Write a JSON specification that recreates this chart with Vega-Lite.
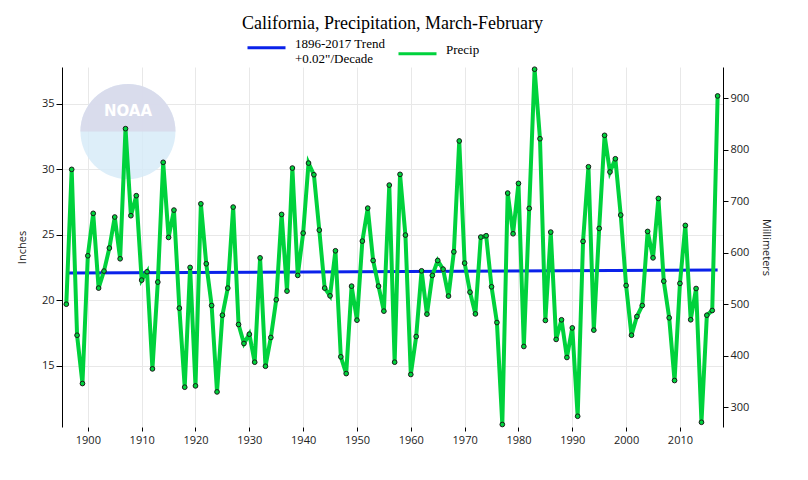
{
  "$schema": "https://vega.github.io/schema/vega-lite/v6.json",
  "autosize": "none",
  "width": 661,
  "height": 360,
  "padding": {"left": 62, "top": 67, "right": 85, "bottom": 53},
  "background": "white",
  "title": {
    "text": "California, Precipitation, March-February",
    "font": "Liberation Serif",
    "fontSize": 18,
    "fontWeight": "normal",
    "color": "#000000",
    "anchor": "middle",
    "offset": -6
  },
  "config": {
    "view": {"stroke": null},
    "axis": {
      "labelFont": "Open Sans",
      "labelFontSize": 11,
      "labelColor": "#222222",
      "titleFont": "Open Sans",
      "titleFontSize": 11,
      "titleFontWeight": "normal",
      "titleColor": "#222222",
      "tickColor": "#000000",
      "domainColor": "#000000",
      "gridColor": "#e8e8e8",
      "gridWidth": 1
    },
    "legend": {
      "orient": "none",
      "legendX": 184,
      "legendY": -40,
      "direction": "horizontal",
      "title": null,
      "symbolType": "stroke",
      "symbolSize": 1444,
      "symbolStrokeWidth": 3,
      "labelFont": "Liberation Serif",
      "labelFontSize": 13,
      "labelColor": "#000000",
      "labelBaseline": "alphabetic",
      "labelOffset": 8,
      "columnPadding": 6,
      "padding": 0
    }
  },
  "datasets": {
    "precip": [
      {"year": 1896, "inches": 19.69}, {"year": 1897, "inches": 29.99}, {"year": 1898, "inches": 17.32}, {"year": 1899, "inches": 13.63},
      {"year": 1900, "inches": 23.39}, {"year": 1901, "inches": 26.63}, {"year": 1902, "inches": 20.92}, {"year": 1903, "inches": 22.22},
      {"year": 1904, "inches": 23.98}, {"year": 1905, "inches": 26.35}, {"year": 1906, "inches": 23.16}, {"year": 1907, "inches": 33.10},
      {"year": 1908, "inches": 26.45}, {"year": 1909, "inches": 27.98}, {"year": 1910, "inches": 21.53}, {"year": 1911, "inches": 22.17},
      {"year": 1912, "inches": 14.75}, {"year": 1913, "inches": 21.38}, {"year": 1914, "inches": 30.53}, {"year": 1915, "inches": 24.79},
      {"year": 1916, "inches": 26.88}, {"year": 1917, "inches": 19.39}, {"year": 1918, "inches": 13.35}, {"year": 1919, "inches": 22.50},
      {"year": 1920, "inches": 13.45}, {"year": 1921, "inches": 27.36}, {"year": 1922, "inches": 22.78}, {"year": 1923, "inches": 19.59},
      {"year": 1924, "inches": 12.99}, {"year": 1925, "inches": 18.85}, {"year": 1926, "inches": 20.92}, {"year": 1927, "inches": 27.11},
      {"year": 1928, "inches": 18.14}, {"year": 1929, "inches": 16.69}, {"year": 1930, "inches": 17.40}, {"year": 1931, "inches": 15.26},
      {"year": 1932, "inches": 23.23}, {"year": 1933, "inches": 14.95}, {"year": 1934, "inches": 17.15}, {"year": 1935, "inches": 20.03},
      {"year": 1936, "inches": 26.55}, {"year": 1937, "inches": 20.69}, {"year": 1938, "inches": 30.09}, {"year": 1939, "inches": 21.89},
      {"year": 1940, "inches": 25.12}, {"year": 1941, "inches": 30.47}, {"year": 1942, "inches": 29.58}, {"year": 1943, "inches": 25.35},
      {"year": 1944, "inches": 20.92}, {"year": 1945, "inches": 20.33}, {"year": 1946, "inches": 23.77}, {"year": 1947, "inches": 15.67},
      {"year": 1948, "inches": 14.39}, {"year": 1949, "inches": 21.07}, {"year": 1950, "inches": 18.47}, {"year": 1951, "inches": 24.51},
      {"year": 1952, "inches": 27.03}, {"year": 1953, "inches": 23.03}, {"year": 1954, "inches": 21.07}, {"year": 1955, "inches": 19.16},
      {"year": 1956, "inches": 28.79}, {"year": 1957, "inches": 15.26}, {"year": 1958, "inches": 29.61}, {"year": 1959, "inches": 24.97},
      {"year": 1960, "inches": 14.32}, {"year": 1961, "inches": 17.22}, {"year": 1962, "inches": 22.24}, {"year": 1963, "inches": 18.93},
      {"year": 1964, "inches": 21.89}, {"year": 1965, "inches": 23.03}, {"year": 1966, "inches": 22.37}, {"year": 1967, "inches": 20.31},
      {"year": 1968, "inches": 23.69}, {"year": 1969, "inches": 32.16}, {"year": 1970, "inches": 22.83}, {"year": 1971, "inches": 20.61},
      {"year": 1972, "inches": 18.95}, {"year": 1973, "inches": 24.82}, {"year": 1974, "inches": 24.92}, {"year": 1975, "inches": 21.02},
      {"year": 1976, "inches": 18.29}, {"year": 1977, "inches": 10.50}, {"year": 1978, "inches": 28.18}, {"year": 1979, "inches": 25.07},
      {"year": 1980, "inches": 28.92}, {"year": 1981, "inches": 16.46}, {"year": 1982, "inches": 27.01}, {"year": 1983, "inches": 37.64},
      {"year": 1984, "inches": 32.33}, {"year": 1985, "inches": 18.45}, {"year": 1986, "inches": 25.20}, {"year": 1987, "inches": 17.00},
      {"year": 1988, "inches": 18.50}, {"year": 1989, "inches": 15.62}, {"year": 1990, "inches": 17.88}, {"year": 1991, "inches": 11.13},
      {"year": 1992, "inches": 24.49}, {"year": 1993, "inches": 30.19}, {"year": 1994, "inches": 17.71}, {"year": 1995, "inches": 25.48},
      {"year": 1996, "inches": 32.59}, {"year": 1997, "inches": 29.79}, {"year": 1998, "inches": 30.80}, {"year": 1999, "inches": 26.50},
      {"year": 2000, "inches": 21.12}, {"year": 2001, "inches": 17.32}, {"year": 2002, "inches": 18.75}, {"year": 2003, "inches": 19.59},
      {"year": 2004, "inches": 25.25}, {"year": 2005, "inches": 23.23}, {"year": 2006, "inches": 27.77}, {"year": 2007, "inches": 21.45},
      {"year": 2008, "inches": 18.65}, {"year": 2009, "inches": 13.86}, {"year": 2010, "inches": 21.28}, {"year": 2011, "inches": 25.71},
      {"year": 2012, "inches": 18.50}, {"year": 2013, "inches": 20.89}, {"year": 2014, "inches": 10.67}, {"year": 2015, "inches": 18.85},
      {"year": 2016, "inches": 19.21}, {"year": 2017, "inches": 35.60}
    ],
    "trend": [
      {"year": 1896, "inches": 22.07},
      {"year": 2017, "inches": 22.31}
    ]
  },
  "layer": [
    {
      "layer": [
        {
          "data": {"values": [{}]},
          "mark": {"type": "point", "shape": "circle", "filled": true, "size": 9025, "color": "#d4eaf8", "opacity": 0.8},
          "encoding": {
            "x": {"datum": 1907.45, "type": "quantitative"},
            "y": {"datum": 32.88, "type": "quantitative"}
          }
        },
        {
          "data": {"values": [{}]},
          "mark": {"type": "arc", "theta": -1.5708, "theta2": 1.5708, "radius": 47.5, "color": "#d8d8ea", "opacity": 0.85},
          "encoding": {
            "x": {"datum": 1907.45, "type": "quantitative"},
            "y": {"datum": 32.88, "type": "quantitative"}
          }
        },
        {
          "data": {"values": [{}]},
          "mark": {"type": "text", "text": "NOAA", "font": "DejaVu Sans", "fontSize": 15, "fontWeight": "bold", "color": "#ffffff", "baseline": "middle", "align": "center"},
          "encoding": {
            "x": {"datum": 1907.45, "type": "quantitative"},
            "y": {"datum": 34.45, "type": "quantitative"}
          }
        },
        {
          "data": {"name": "trend"},
          "mark": {"type": "line", "strokeWidth": 3},
          "encoding": {
            "x": {"field": "year", "type": "quantitative"},
            "y": {"field": "inches", "type": "quantitative"},
            "color": {"datum": "Trend"}
          }
        },
        {
          "data": {"name": "precip"},
          "mark": {"type": "line", "strokeWidth": 4},
          "encoding": {
            "x": {"field": "year", "type": "quantitative"},
            "y": {"field": "inches", "type": "quantitative"},
            "color": {"datum": "Precip"}
          }
        },
        {
          "data": {"name": "precip"},
          "mark": {"type": "point", "shape": "circle", "filled": true, "size": 22, "fill": "#00d23c", "stroke": "#1a1a1a", "strokeWidth": 1, "opacity": 1},
          "encoding": {
            "x": {"field": "year", "type": "quantitative"},
            "y": {"field": "inches", "type": "quantitative"}
          }
        }
      ],
      "encoding": {
        "x": {
          "type": "quantitative",
          "scale": {"domain": [1895.2, 2018], "nice": false, "zero": false},
          "axis": {"title": null, "values": [1900, 1910, 1920, 1930, 1940, 1950, 1960, 1970, 1980, 1990, 2000, 2010], "format": "d", "domain": false, "tickSize": 4, "labelPadding": 3, "grid": true}
        },
        "y": {
          "type": "quantitative",
          "scale": {"domain": [10.31, 37.81], "nice": false, "zero": false},
          "axis": {"title": "Inches", "orient": "left", "values": [15, 20, 25, 30, 35], "tickSize": 6, "labelPadding": 2, "grid": true, "titlePadding": 14}
        },
        "color": {
          "type": "nominal",
          "scale": {"domain": ["Trend", "Precip"], "range": ["#0a22ea", "#00d23c"]},
          "legend": {
            "labelExpr": "datum.label == 'Trend' ? ['1896-2017 Trend', '+0.02\"/Decade'] : 'Precip'"
          }
        }
      }
    },
    {
      "data": {"values": [{}]},
      "mark": {"type": "rule", "opacity": 0},
      "encoding": {
        "y": {
          "datum": 600,
          "type": "quantitative",
          "scale": {"domain": [261.87, 960.37], "nice": false, "zero": false},
          "axis": {"title": "Millimeters", "orient": "right", "values": [300, 400, 500, 600, 700, 800, 900], "tickSize": 5, "labelPadding": 2, "grid": false, "titlePadding": 12}
        }
      }
    }
  ],
  "resolve": {"scale": {"y": "independent"}}
}
